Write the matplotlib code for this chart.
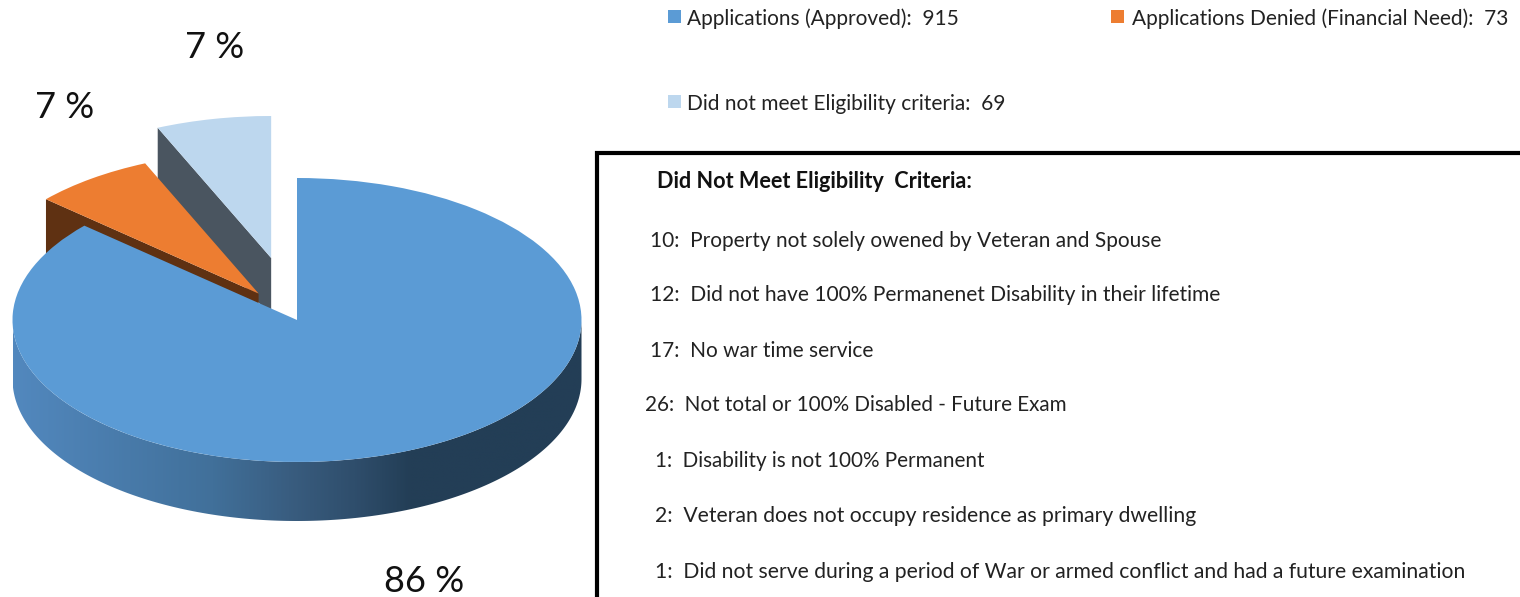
import numpy as np
import matplotlib
matplotlib.use("Agg")
import matplotlib.pyplot as plt
from matplotlib.colors import LinearSegmentedColormap
from matplotlib.patches import PathPatch, Polygon
from matplotlib.path import Path

categories = ["Applications (Approved):  915", "Applications Denied (Financial Need):  73", "Did not meet Eligibility criteria:  69"]
values = [915, 73, 69]
explode = [0, 0.23, 0.446]
pct_labels = ["86 %", "7 %", "7 %"]
box_title = "Did Not Meet Eligibility  Criteria:"
box_lines = [
    "10:  Property not solely owened by Veteran and Spouse",
    "12:  Did not have 100% Permanenet Disability in their lifetime",
    "17:  No war time service",
    "26:  Not total or 100% Disabled - Future Exam",
    "1:  Disability is not 100% Permanent",
    "2:  Veteran does not occupy residence as primary dwelling",
    "1:  Did not serve during a period of War or armed conflict and had a future examination",
]
top_colors = ["#5B9BD5", "#ED7D31", "#BDD7EE"]
side_colors = [None, "#5F3112", "#4A5560"]

W, H = 1520, 597
CX, CY, RX, RY, DEPTH = 297, 320, 284.5, 142, 59
plt.rcParams["font.family"] = ["Lato", "DejaVu Sans"]

fig = plt.figure(figsize=(W / 100, H / 100), dpi=100, facecolor="white")
ax = fig.add_axes([0, 0, 1, 1])
wedges, _ = ax.pie(values, explode=explode, colors=top_colors, startangle=90,
                   counterclock=False, radius=1, center=(0, 0),
                   wedgeprops=dict(linewidth=0))
ax.set_aspect("auto")
d = DEPTH / RY

# Extruded cut faces of the two exploded slices
for w, col, z in ((wedges[2], side_colors[2], 1), (wedges[1], side_colors[1], 3)):
    cx, cy = w.center
    t = np.deg2rad(w.theta2)
    rim = (cx + w.r * np.cos(t), cy + w.r * np.sin(t))
    ax.add_patch(Polygon([rim, (cx, cy), (cx, cy - d), (rim[0], rim[1] - d)],
                         closed=True, fc=col, ec="none", zorder=z))
wedges[2].set_zorder(2)
wedges[1].set_zorder(4)
wedges[0].set_zorder(6)

# Front wall of the main slice, with a horizontal gradient
t = np.linspace(np.pi, 2 * np.pi, 300)
upper = np.c_[np.cos(t), np.sin(t)]
lower = (upper - [0, d])[::-1]
wall = Path(np.r_[upper, lower, upper[:1]], closed=True)
grad = LinearSegmentedColormap.from_list(
    "wall", [(0, "#5288BE"), (0.35, "#41709A"), (0.5, "#385B7D"),
             (0.6, "#2F4E6C"), (0.7, "#233E56"), (1, "#233E56")])
im = ax.imshow(np.linspace(0, 1, 400)[None, :], cmap=grad, extent=(-1, 1, -1 - d, 0),
               aspect="auto", zorder=5, interpolation="bilinear")
im.set_clip_path(PathPatch(wall, transform=ax.transData))

ax.set_xlim((0 - CX) / RX, (W - CX) / RX)
ax.set_ylim((CY - H) / RY, CY / RY)
ax.axis("off")

# Overlay in pixel units for text, legend and box
ov = fig.add_axes([0, 0, 1, 1], facecolor="none")
ov.set_xlim(0, W)
ov.set_ylim(H, 0)
ov.axis("off")

for lab, (x, y) in zip(pct_labels, [(424.5, 582), (65, 107), (215, 48)]):
    ov.text(x, y, lab, fontsize=26, ha="center", va="center", color="#111111")

leg_pos = [(668, 10, 687, 18.5), (1111, 10, 1132, 18.5), (668, 95, 687, 103.5)]
leg_size = [15.0, 15.0, 15.0]
for lab, col, (sx, sy, tx, ty), fs in zip(categories, top_colors, leg_pos, leg_size):
    ov.add_patch(plt.Rectangle((sx, sy), 12.5, 13, fc=col, ec="none"))
    ov.text(tx, ty, lab, fontsize=fs, ha="left", va="center", color="#222222")

ov.plot([597, 597, W + 5], [H + 5, 153, 153], color="black", lw=3, solid_joinstyle="miter")
ov.text(657, 181.5, box_title, fontsize=15.6, fontweight="bold", ha="left", va="center", color="#111111")
line_x = [650, 650, 650, 645, 655, 655, 655]
line_y = [240, 294, 350, 404, 460, 515, 571]
line_size = [15.05, 15.1, 15.0, 14.85, 14.85, 15.2, 15.2]
for s, x, y, fs in zip(box_lines, line_x, line_y, line_size):
    ov.text(x, y + 1, s, fontsize=fs, ha="left", va="center", color="#222222")

fig.savefig("out.png", dpi=100)
